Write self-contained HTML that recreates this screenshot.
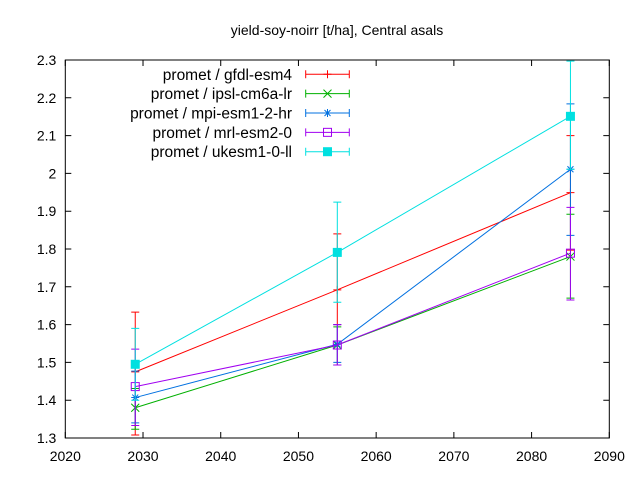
<!DOCTYPE html>
<html><head><meta charset="utf-8"><style>body{margin:0;background:#fff}svg{display:block}text{font-family:"Liberation Sans",sans-serif;font-size:14px;fill:#000}.lg text{font-size:15.5px}</style></head>
<body>
<svg id="c" width="640" height="480">
<rect x="0" y="0" width="640" height="480" fill="#fff"/>
<text x="337" y="35" text-anchor="middle">yield-soy-noirr [t/ha], Central asals</text>
<rect x="65.3" y="60" width="544" height="378" fill="none" stroke="#000" stroke-width="1"/>
<g id="axes"></g><g id="series"></g><g id="legend" class="lg"></g>
</svg>
<script>
const years=[2029,2055,2085];
const seriesNames=["promet / gfdl-esm4","promet / ipsl-cm6a-lr","promet / mpi-esm1-2-hr","promet / mrl-esm2-0","promet / ukesm1-0-ll"];
const colors=["#ff0000","#00b000","#0070e0","#a000f0","#00e0e0"];
const gfdl=[1.475,1.692,1.949];
const gfdlLo=[1.308,1.600,1.797];
const gfdlHi=[1.633,1.840,2.100];
const ipsl=[1.380,1.546,1.780];
const ipslLo=[1.323,1.493,1.670];
const ipslHi=[1.431,1.594,1.892];
const mpi=[1.407,1.548,2.011];
const mpiLo=[1.340,1.500,1.836];
const mpiHi=[1.477,1.600,2.184];
const mri=[1.436,1.546,1.789];
const mriLo=[1.333,1.493,1.665];
const mriHi=[1.535,1.600,1.910];
const uk=[1.495,1.791,2.151];
const ukLo=[1.400,1.659,2.011];
const ukHi=[1.590,1.924,2.297];
const xTicks=[2020,2030,2040,2050,2060,2070,2080,2090];
const yTicks=[1.3,1.4,1.5,1.6,1.7,1.8,1.9,2.0,2.1,2.2,2.3];
const yLabels=["1.3","1.4","1.5","1.6","1.7","1.8","1.9","2","2.1","2.2","2.3"];
const X0=65.3,X1=609.3,Y0=438,Y1=60;
const xs=v=>X0+(v-2020)/70*(X1-X0);
const ys=v=>Y0-(v-1.3)/1.0*(Y0-Y1);
const NS="http://www.w3.org/2000/svg";
function mk(p,t,a){const e=document.createElementNS(NS,t);for(const k in a)e.setAttribute(k,a[k]);p.appendChild(e);return e;}
const ax=document.getElementById('axes');
xTicks.forEach(t=>{const x=xs(t);
 let l=mk(ax,'path',{d:`M${x},${Y0}v-6M${x},${Y1}v6`,stroke:'#000'});
 
 
 let tx=mk(ax,'text',{x:x,y:Y0+23,'text-anchor':'middle'});tx.textContent=t;
 
 });
yTicks.forEach((t,i)=>{const y=ys(t);
 let l=mk(ax,'path',{d:`M${X0},${y}h6M${X1},${y}h-6`,stroke:'#000'});
 
 
 let tx=mk(ax,'text',{x:X0-9,y:y+5,'text-anchor':'end'});tx.textContent=yLabels[i];
 
 });
const data=[[gfdl,gfdlLo,gfdlHi],[ipsl,ipslLo,ipslHi],[mpi,mpiLo,mpiHi],[mri,mriLo,mriHi],[uk,ukLo,ukHi]];
function marker(g,i,x,y,c){
 if(i==0)mk(g,'path',{d:`M${x-4},${y}h8M${x},${y-4}v8`,stroke:c});
 else if(i==1)mk(g,'path',{d:`M${x-4},${y-4}l8,8M${x-4},${y+4}l8,-8`,stroke:c});
 else if(i==2)mk(g,'path',{d:`M${x-4},${y}h8M${x},${y-4}v8M${x-3},${y-3}l6,6M${x-3},${y+3}l6,-6`,stroke:c});
 else if(i==3)mk(g,'rect',{x:x-4,y:y-4,width:8,height:8,fill:'none',stroke:c});
 else mk(g,'rect',{x:x-4.5,y:y-4.5,width:9,height:9,fill:c});
}
const sg=document.getElementById('series');
data.forEach((d,i)=>{const c=colors[i];
 const g=mk(sg,'g',{});
 
 
 mk(g,'polyline',{points:years.map((y,j)=>xs(y)+','+ys(d[0][j])).join(' '),fill:'none',stroke:c,'stroke-width':1});
 years.forEach((yr,j)=>{const x=xs(yr),lo=ys(d[1][j]),hi=ys(d[2][j]);
  const e=mk(g,'path',{d:`M${x},${lo}V${hi}M${x-4},${lo}h8M${x-4},${hi}h8`,stroke:c});
  
  
  marker(g,i,x,ys(d[0][j]),c);});
});
const lg=document.getElementById('legend');
seriesNames.forEach((n,i)=>{const y=74.3+i*19.35,c=colors[i];
 const g=mk(lg,'g',{});
 
 
 const t=mk(g,'text',{x:292,y:y+5.5,'text-anchor':'end'});t.textContent=n;
 mk(g,'path',{d:`M305.7,${y}H349.3M305.7,${y-4}v8M349.3,${y-4}v8`,stroke:c});
 marker(g,i,327.5,y,c);});
</script>
</body></html>
